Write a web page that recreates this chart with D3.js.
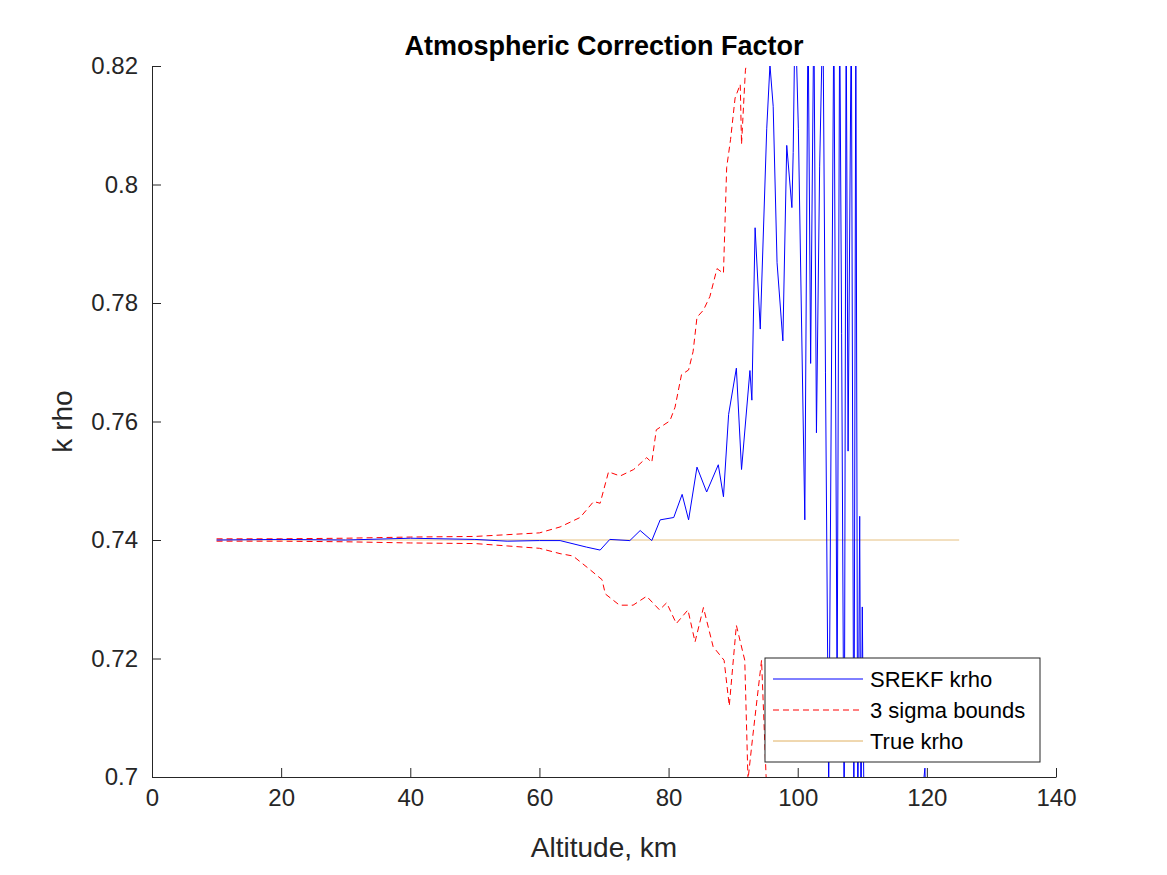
<!DOCTYPE html>
<html>
<head>
<meta charset="utf-8">
<script src="https://cdn.jsdelivr.net/npm/d3@7"></script>
<style>
  body { margin: 0; background: #fff; }
  text { font-family: "Liberation Sans", Arial, sans-serif; }
</style>
</head>
<body>
<div id="chart"></div>
<script>
// Data: altitude (km) and k rho
var estAlt = [10,20,30,40,50,55,60,63.2,67.3,69.4,70.9,74.0,75.6,77.4,78.7,80.8,82.1,83.1,84.4,85.9,87.7,88.5,89.3,90.5,91.3,92.6,92.9,93.4,94.2,95.2,95.7,96.2,96.8,97.7,98.3,99.1,99.3,99.6,100.1,101.1,101.6,102.0,102.5,102.9,103.4,103.9,104.3,104.8,105.6,106.1,106.5,106.8,107.2,107.5,107.8,108.3,108.7,109.0,109.3,109.6,109.8,110.0,110.3,112,115,119.7,120.2];
var estVal = [0.7400,0.7401,0.7400,0.7403,0.7401,0.7398,0.7399,0.7399,0.7388,0.7383,0.7401,0.7399,0.7416,0.7399,0.7434,0.7438,0.7477,0.7434,0.7523,0.7481,0.7527,0.7473,0.7612,0.7690,0.7519,0.7686,0.7636,0.7927,0.7756,0.8094,0.8202,0.8132,0.7868,0.7736,0.8066,0.7961,0.8054,0.83,0.8094,0.7434,0.83,0.7698,0.83,0.7581,0.8031,0.83,0.7682,0.6968,0.83,0.7124,0.83,0.7748,0.69,0.83,0.7550,0.83,0.69,0.83,0.69,0.7440,0.69,0.7287,0.69,0.66,0.65,0.7015,0.68];

var upAlt = [10,20,30,40,50,55,60,63.2,66.3,68.4,69.4,70.7,72.5,74.6,76.6,77.4,78.1,80.2,81.0,82.0,83.1,83.8,84.4,85.4,86.4,87.5,88.5,89.0,89.6,90.3,91.1,91.3,91.9,92.4,93.0];
var upVal = [0.7402,0.7402,0.7403,0.7405,0.7406,0.7409,0.7412,0.7422,0.7438,0.7465,0.7462,0.7515,0.7508,0.7519,0.7539,0.7531,0.7586,0.7601,0.7624,0.7679,0.7687,0.7718,0.7776,0.7788,0.7811,0.7858,0.7850,0.8029,0.8076,0.8146,0.8169,0.8068,0.8193,0.8224,0.83];

var loAlt = [10,20,30,40,50,55,60,63.2,65.2,67.6,69.7,70.2,72.4,74.5,76.6,78.6,79.7,81.2,83.0,84.1,85.4,86.9,88.6,89.4,90.5,91.8,92.3,93.0,94.4,95.1,95.6];
var loVal = [0.7398,0.7398,0.7397,0.7395,0.7394,0.7390,0.7386,0.7377,0.7373,0.7352,0.7333,0.7309,0.7290,0.7290,0.7305,0.7282,0.7294,0.7259,0.7282,0.7228,0.7286,0.7220,0.7197,0.7120,0.7256,0.7197,0.6995,0.7065,0.7197,0.7002,0.69];

var trueAlt = [10,125];
var trueVal = [0.74,0.74];

var xTicks = [0,20,40,60,80,100,120,140];
var yTicks = [0.7,0.72,0.74,0.76,0.78,0.8,0.82];

var svgWidth = 1167, svgHeight = 875;
var margin = {top: 66, right: 111, bottom: 98, left: 152};
var width = svgWidth - margin.left - margin.right;
var height = svgHeight - margin.top - margin.bottom;

var svg = d3.select("#chart").append("svg")
  .attr("width", svgWidth).attr("height", svgHeight);

svg.append("defs").append("clipPath").attr("id", "clip")
  .append("rect").attr("width", width).attr("height", height);

var g = svg.append("g").attr("transform", `translate(${margin.left}, ${margin.top})`);

var xScale = d3.scaleLinear().domain([0, 140]).range([0, width]);
var yScale = d3.scaleLinear().domain([0.7, 0.82]).range([height, 0]);

var fmt = d => d === 0 ? "0" : String(+d.toFixed(2));
var axisStyle = function(sel) {
  sel.select(".domain").attr("stroke", "#262626");
  sel.selectAll(".tick line").attr("stroke", "#262626");
  sel.selectAll("text").attr("font-size", "24px").attr("fill", "#262626")
    .attr("font-family", "Liberation Sans, Arial, sans-serif");
};

g.append("g").attr("transform", `translate(0, ${height})`)
  .call(d3.axisBottom(xScale).tickValues(xTicks).tickSizeInner(-9).tickSizeOuter(0).tickPadding(12).tickFormat(fmt))
  .call(axisStyle);
g.append("g")
  .call(d3.axisLeft(yScale).tickValues(yTicks).tickSizeInner(-9).tickSizeOuter(0).tickPadding(14).tickFormat(fmt))
  .call(axisStyle);

var plot = g.append("g").attr("clip-path", "url(#clip)");
var line = d3.line().x(d => xScale(d[0])).y(d => yScale(d[1]));
var zip = (a, b) => a.map((x, i) => [x, b[i]]);

plot.append("path").datum(zip(trueAlt, trueVal)).attr("d", line)
  .attr("fill", "none").attr("stroke", "#E0B060").attr("stroke-width", 0.8);
plot.append("path").datum(zip(upAlt, upVal)).attr("d", line)
  .attr("fill", "none").attr("stroke", "red").attr("stroke-width", 1).attr("stroke-dasharray", "6,4");
plot.append("path").datum(zip(loAlt, loVal)).attr("d", line)
  .attr("fill", "none").attr("stroke", "red").attr("stroke-width", 1).attr("stroke-dasharray", "6,4");
plot.append("path").datum(zip(estAlt, estVal)).attr("d", line)
  .attr("fill", "none").attr("stroke", "blue").attr("stroke-width", 1);

// Title and axis labels
svg.append("text").attr("x", margin.left + width / 2).attr("y", 55)
  .attr("text-anchor", "middle").attr("font-size", "27px").attr("font-weight", "bold")
  .text("Atmospheric Correction Factor");
svg.append("text").attr("x", margin.left + width / 2).attr("y", 857)
  .attr("text-anchor", "middle").attr("font-size", "28px").attr("fill", "#262626")
  .text("Altitude, km");
svg.append("text").attr("transform", `translate(72, ${margin.top + height / 2}) rotate(-90)`)
  .attr("text-anchor", "middle").attr("font-size", "28px").attr("fill", "#262626")
  .text("k rho");

// Legend
var legend = svg.append("g").attr("transform", "translate(765, 658)");
legend.append("rect").attr("width", 275).attr("height", 104)
  .attr("fill", "white").attr("stroke", "#262626").attr("stroke-width", 1);
var items = [
  {label: "SREKF krho", color: "blue", dash: null},
  {label: "3 sigma bounds", color: "red", dash: "6,4"},
  {label: "True krho", color: "#E0B060", dash: null}
];
items.forEach(function(it, i) {
  var y = 21 + i * 31;
  legend.append("line").attr("x1", 8).attr("x2", 98).attr("y1", y).attr("y2", y)
    .attr("stroke", it.color).attr("stroke-width", 1).attr("stroke-dasharray", it.dash);
  legend.append("text").attr("x", 105).attr("y", y + 8).attr("font-size", "22px")
    .attr("fill", "#000").text(it.label);
});
</script>
</body>
</html>
